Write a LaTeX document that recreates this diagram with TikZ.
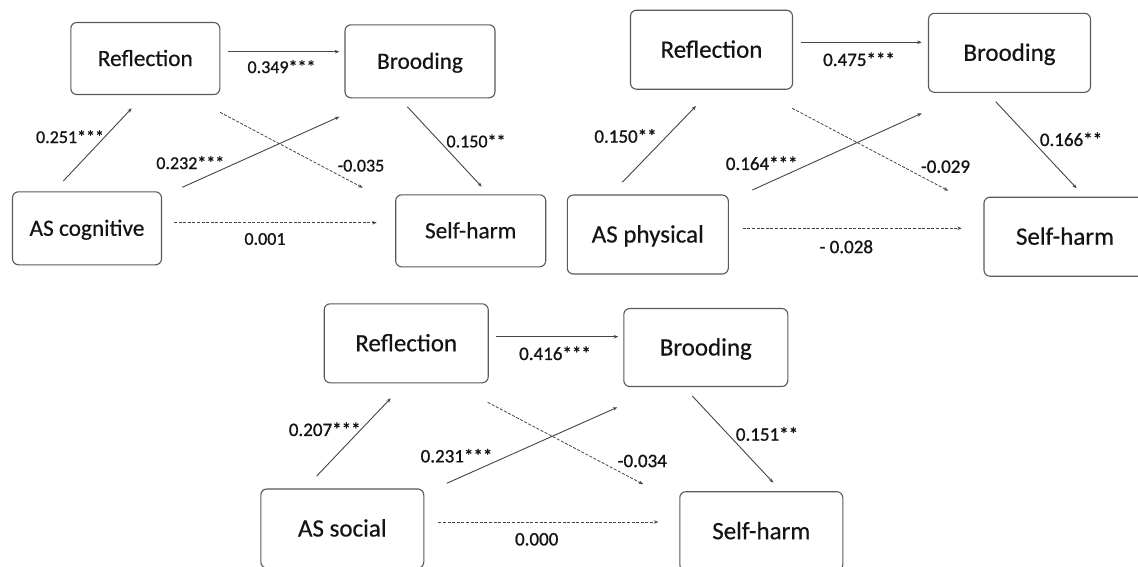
\documentclass[tikz,border=0pt]{standalone}
\usepackage{fontspec}
\setmainfont{Carlito}
\newfontfamily\boxfnt[FakeBold=0.4]{Carlito}
\newfontfamily\labfnt[FakeBold=0.9]{Carlito}
\usetikzlibrary{arrows.meta}
\definecolor{boxgray}{HTML}{5A5A5A}
\definecolor{linegray}{HTML}{454545}
\definecolor{txt}{HTML}{141414}
\tikzset{
  boxbase/.style={draw=boxgray, line width=1.1pt, rounded corners=6pt, inner sep=0pt,
    text=txt, text depth=0pt, align=center},
  boxA/.style={boxbase, text height=15pt, font=\boxfnt\fontsize{23.3}{28}\selectfont},
  boxB/.style={boxbase, text height=16pt, font=\boxfnt\fontsize{25}{30}\selectfont},
  labA/.style={inner sep=0pt, text=txt, font=\labfnt\fontsize{18}{22}\selectfont},
  labB/.style={inner sep=0pt, text=txt, font=\labfnt\fontsize{19}{23}\selectfont},
  solidarrow/.style={draw=linegray, line width=0.9pt, -{Stealth[length=4.5pt,width=3.5pt]}},
  dasharrow/.style={draw=linegray, line width=0.8pt, dash pattern=on 3pt off 1.6pt, -{Stealth[length=4.5pt,width=3.5pt]}}
}
\begin{document}
\begin{tikzpicture}[x=1pt,y=-1pt]
\useasboundingbox[fill=white] (0,0) rectangle (1138,566);

% ---------- Panel 1: AS cognitive ----------
\node[boxA, minimum width=149pt, minimum height=72pt] (r1) at (145.3,58.5) {Reflection};
\node[boxA, minimum width=150pt, minimum height=73pt] (b1) at (420,61.3) {Brooding};
\node[boxA, minimum width=149pt, minimum height=73pt] (a1) at (87,228.3) {AS cognitive};
\node[boxA, minimum width=150pt, minimum height=72pt] (s1) at (470.7,230.8) {Self-harm};

\coordinate (r1b1s) at (227.7,51.7);  \coordinate (r1b1e) at (339.3,51.7);
\coordinate (a1r1s) at (63.3,181);    \coordinate (a1r1e) at (131.7,108.3);
\coordinate (a1b1s) at (182.3,187.3); \coordinate (a1b1e) at (339.3,116.7);
\coordinate (r1s1s) at (220,112.3);   \coordinate (r1s1e) at (362.7,187.7);
\coordinate (b1s1s) at (407.3,106.7); \coordinate (b1s1e) at (481.7,186.7);
\coordinate (a1s1s) at (174,222.7);   \coordinate (a1s1e) at (376.7,222.7);

\draw[solidarrow] (r1b1s) -- (r1b1e);
\draw[solidarrow] (a1r1s) -- (a1r1e);
\draw[solidarrow] (a1b1s) -- (a1b1e);
\draw[dasharrow]  (r1s1s) -- (r1s1e);
\draw[solidarrow] (b1s1s) -- (b1s1e);
\draw[dasharrow]  (a1s1s) -- (a1s1e);

\node[labA] (l1a) at (281.5,66.7) {0.349***};
\node[labA] (l1b) at (70,136.7) {0.251***};
\node[labA] (l1c) at (190.3,162.7) {0.232***};
\node[labA] (l1d) at (361,165.7) {-0.035};
\node[labA] (l1e) at (476,141) {0.150**};
\node[labA] (l1f) at (265,239) {0.001};

% ---------- Panel 2: AS physical ----------
\node[boxB, minimum width=162pt, minimum height=79pt] (r2) at (711.5,49.7) {Reflection};
\node[boxB, minimum width=162pt, minimum height=79pt] (b2) at (1009.5,52.8) {Brooding};
\node[boxB, minimum width=161pt, minimum height=79pt] (a2) at (647.8,234.5) {AS physical};
\node[boxB, minimum width=162pt, minimum height=79pt] (s2) at (1065,236.7) {Self-harm};

\coordinate (r2b2s) at (800.7,42.3);  \coordinate (r2b2e) at (921.7,42.3);
\coordinate (a2r2s) at (622.3,182.3); \coordinate (a2r2e) at (696,106);
\coordinate (a2b2s) at (752.3,190);   \coordinate (a2b2e) at (921.7,113.3);
\coordinate (r2s2s) at (792.3,108.3); \coordinate (r2s2e) at (948.3,190.7);
\coordinate (b2s2s) at (995.7,101.7); \coordinate (b2s2e) at (1076.7,188.3);
\coordinate (a2s2s) at (742.7,228.3); \coordinate (a2s2e) at (961.7,228.3);

\draw[solidarrow] (r2b2s) -- (r2b2e);
\draw[solidarrow] (a2r2s) -- (a2r2e);
\draw[solidarrow] (a2b2s) -- (a2b2e);
\draw[dasharrow]  (r2s2s) -- (r2s2e);
\draw[solidarrow] (b2s2s) -- (b2s2e);
\draw[dasharrow]  (a2s2s) -- (a2s2e);

\node[labB] (l2a) at (859,59.3) {0.475***};
\node[labB] (l2b) at (625.5,136) {0.150**};
\node[labB] (l2c) at (761.7,163.3) {0.164***};
\node[labB] (l2d) at (945.5,166.7) {-0.029};
\node[labB] (l2e) at (1071,139.3) {0.166**};
\node[labB] (l2f) at (846.3,246.7) {- 0.028};

% ---------- Panel 3: AS social ----------
\node[boxB, minimum width=164pt, minimum height=79pt] (r3) at (406.2,343.3) {Reflection};
\node[boxB, minimum width=164pt, minimum height=78pt] (b3) at (705.8,347.5) {Brooding};
\node[boxB, minimum width=163pt, minimum height=79pt] (a3) at (342.3,528.5) {AS social};
\node[boxB, minimum width=163pt, minimum height=79pt] (s3) at (761.3,531.2) {Self-harm};

\coordinate (r3b3s) at (496,336.7);   \coordinate (r3b3e) at (618.3,336.7);
\coordinate (a3r3s) at (316.7,476);   \coordinate (a3r3e) at (390.7,398.3);
\coordinate (a3b3s) at (446.7,483.3); \coordinate (a3b3e) at (617.3,407.3);
\coordinate (r3s3s) at (487.7,402.3); \coordinate (r3s3e) at (643.3,484.3);
\coordinate (b3s3s) at (692.3,396);   \coordinate (b3s3e) at (773.3,482.7);
\coordinate (a3s3s) at (438.3,522);   \coordinate (a3s3e) at (658.3,522);

\draw[solidarrow] (r3b3s) -- (r3b3e);
\draw[solidarrow] (a3r3s) -- (a3r3e);
\draw[solidarrow] (a3b3s) -- (a3b3e);
\draw[dasharrow]  (r3s3s) -- (r3s3e);
\draw[solidarrow] (b3s3s) -- (b3s3e);
\draw[dasharrow]  (a3s3s) -- (a3s3e);

\node[labB] (l3a) at (555,353.3) {0.416***};
\node[labB] (l3b) at (324.7,429.3) {0.207***};
\node[labB] (l3c) at (456.5,455.7) {0.231***};
\node[labB] (l3d) at (642.3,461) {-0.034};
\node[labB] (l3e) at (767,434) {0.151**};
\node[labB] (l3f) at (536.7,539.3) {0.000};
\end{tikzpicture}
\end{document}
